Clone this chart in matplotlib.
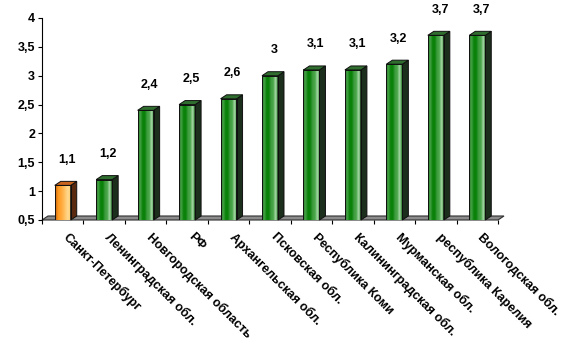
import numpy as np
import matplotlib
matplotlib.use("Agg")
import matplotlib.pyplot as plt
from matplotlib.patches import Polygon
from matplotlib.colors import LinearSegmentedColormap

plt.rcParams["font.family"] = ["Liberation Sans", "DejaVu Sans"]
plt.rcParams["font.weight"] = "bold"

# Data
regions = [
    "Санкт-Петербург",
    "Ленинградская обл.",
    "Новгородская область",
    "РФ",
    "Архангельская обл.",
    "Псковская обл.",
    "Республика Коми",
    "Калининградская обл.",
    "Мурманская обл.",
    "республика Карелия",
    "Вологодская обл.",
]
values = [1.1, 1.2, 2.4, 2.5, 2.6, 3.0, 3.1, 3.1, 3.2, 3.7, 3.7]
value_labels = ["1,1", "1,2", "2,4", "2,5", "2,6", "3", "3,1", "3,1", "3,2", "3,7", "3,7"]
y_ticks = [0.5, 1, 1.5, 2, 2.5, 3, 3.5, 4]
y_tick_labels = ["0,5", "1", "1,5", "2", "2,5", "3", "3,5", "4"]
highlight = "Санкт-Петербург"

base = 0.5
W, H = 576, 357
fig = plt.figure(figsize=(W / 100, H / 100), dpi=100)
ax_left, ax_bottom, ax_w, ax_h = 42 / W, (H - 220) / H, 456 / W, 202 / H
ax = fig.add_axes([ax_left, ax_bottom, ax_w, ax_h])

n = len(values)
ax.set_xlim(-0.5, n - 0.5)
ax.set_ylim(base, 4)

# 3D depth in data units (about 6 px right, 4 px up)
dx = 6 * n / 456
dy = 4 * 3.5 / 202
bar_w = 16 * n / 456

green_cmap = LinearSegmentedColormap.from_list(
    "g", ["#2f7a2f", "#43a043", "#0a820a", "#0a820a", "#3f9c3f", "#4aa84a", "#a8d8a8", "#3c963c"]
)
orange_cmap = LinearSegmentedColormap.from_list(
    "o", ["#c06010", "#ff9a20", "#ffa83a", "#ffc060", "#ffd890", "#ffd070"]
)
grad = np.linspace(0, 1, 64).reshape(1, -1)

# floor
floor = Polygon(
    [(-0.5, base), (n - 0.5, base), (n - 0.5 + dx, base + dy), (-0.5 + dx, base + dy)],
    closed=True, facecolor="#8c8c8c", edgecolor="#303030", lw=0.8, clip_on=False, zorder=1,
)
ax.add_patch(floor)

for i, (name, v) in enumerate(zip(regions, values)):
    x0 = i - bar_w / 2
    x1 = i + bar_w / 2
    if name == highlight:
        cmap, side_c, top_c = orange_cmap, "#5a2a10", "#c8641e"
    else:
        cmap, side_c, top_c = green_cmap, "#1c2e1c", "#2f6e2f"
    ax.imshow(grad, cmap=cmap, aspect="auto", extent=(x0, x1, base, v), zorder=3, interpolation="bilinear")
    ax.add_patch(plt.Rectangle((x0, base), bar_w, v - base, fill=False, edgecolor="#101010", lw=0.7, zorder=4))
    side = Polygon([(x1, base), (x1 + dx, base + dy), (x1 + dx, v + dy), (x1, v)],
                   closed=True, facecolor=side_c, edgecolor="#101010", lw=0.7, zorder=3, clip_on=False)
    top = Polygon([(x0, v), (x1, v), (x1 + dx, v + dy), (x0 + dx, v + dy)],
                  closed=True, facecolor=top_c, edgecolor="#101010", lw=0.7, zorder=3, clip_on=False)
    ax.add_patch(side)
    ax.add_patch(top)
    ax.annotate(value_labels[i], xy=(i, v), xytext=(3, 14), textcoords="offset points",
                ha="center", va="bottom", fontsize=9, fontweight="bold", annotation_clip=False)
    ax.annotate(name, xy=(i, base), xytext=(2, -11), textcoords="offset points",
                rotation=-45, rotation_mode="anchor", ha="left", va="center",
                fontsize=9, fontweight="bold", annotation_clip=False)

ax.set_xticks(np.arange(-0.5, n, 1.0))
ax.set_xticklabels([])
ax.set_yticks(y_ticks)
ax.set_yticklabels(y_tick_labels, fontsize=9, fontweight="bold")
ax.tick_params(axis="both", length=3, width=0.8, direction="out", pad=2)
for s in ["top", "right"]:
    ax.spines[s].set_visible(False)
ax.spines["bottom"].set_visible(False)
ax.spines["left"].set_linewidth(0.8)

fig.savefig("out.png", dpi=100)
